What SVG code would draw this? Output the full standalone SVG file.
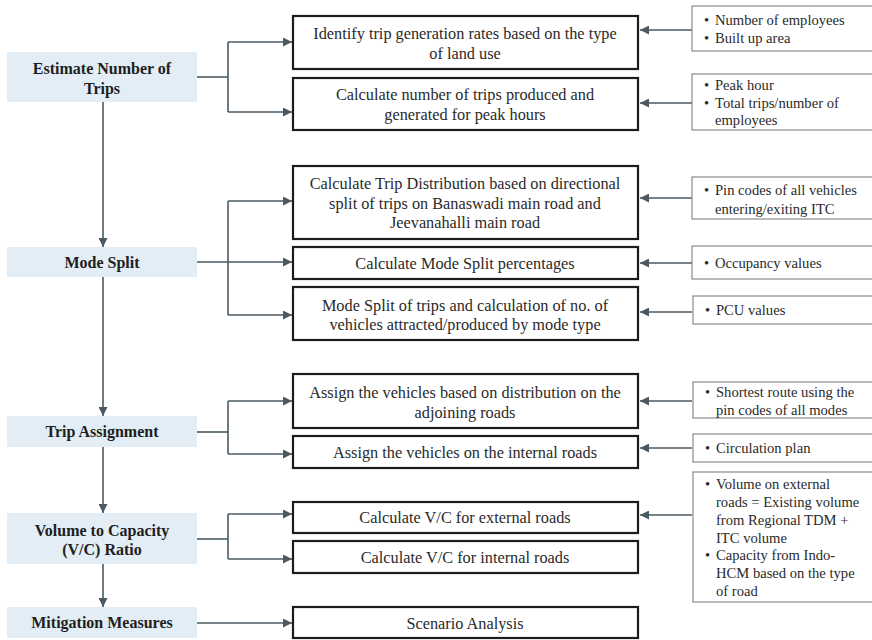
<svg xmlns="http://www.w3.org/2000/svg" width="872" height="640" viewBox="0 0 872 640">
<defs>
<marker id="ah" viewBox="0 0 10 10" refX="10" refY="5" markerWidth="10" markerHeight="9" orient="auto" markerUnits="userSpaceOnUse"><path d="M0,0 L10,5 L0,10 z" fill="#4b5a62"/></marker>
<style>
.stage rect{fill:#e3edf5;stroke:none}
.stage text{font-family:"Liberation Serif",serif;font-weight:bold;font-size:16px;fill:#1e1e1e;text-anchor:middle}
.task rect{fill:#fff;stroke:#1c1c1c;stroke-width:2.2}
.task text{font-family:"Liberation Serif",serif;font-size:16.3px;fill:#2a2a2a;text-anchor:middle}
.note rect{fill:#fff;stroke:#8a8a8a;stroke-width:1.2}
.note text{font-family:"Liberation Serif",serif;font-size:14.6px;fill:#2a2a2a}
.conn path,.conn line{fill:none;stroke:#4b5a62;stroke-width:1.6}
.arr{marker-end:url(#ah)}
</style>
</defs>
<rect width="872" height="640" fill="#fff"/>

<g class="conn">
<!-- vertical flow -->
<line class="arr" x1="103" y1="102" x2="103" y2="247"/>
<line class="arr" x1="103" y1="277" x2="103" y2="416"/>
<line class="arr" x1="103" y1="447" x2="103" y2="513"/>
<line class="arr" x1="103" y1="564" x2="103" y2="607"/>
<!-- estimate -->
<path d="M197,77 H228"/>
<path d="M228,42 V112"/>
<line class="arr" x1="228" y1="42" x2="292" y2="42"/>
<line class="arr" x1="228" y1="112" x2="292" y2="112"/>
<!-- mode split -->
<path d="M228,201 V315"/>
<line class="arr" x1="197" y1="262" x2="292" y2="262"/>
<line class="arr" x1="228" y1="201" x2="292" y2="201"/>
<line class="arr" x1="228" y1="315" x2="292" y2="315"/>
<!-- trip assignment -->
<path d="M197,432 H228"/>
<path d="M228,401 V454"/>
<line class="arr" x1="228" y1="401" x2="292" y2="401"/>
<line class="arr" x1="228" y1="454" x2="292" y2="454"/>
<!-- v/c -->
<path d="M197,539 H228"/>
<path d="M228,514 V559"/>
<line class="arr" x1="228" y1="514" x2="292" y2="514"/>
<line class="arr" x1="228" y1="559" x2="292" y2="559"/>
<!-- mitigation -->
<line class="arr" x1="197" y1="623" x2="292" y2="623"/>
<!-- right notes to tasks -->
<line class="arr" x1="692" y1="30" x2="640" y2="30"/>
<line class="arr" x1="692" y1="103" x2="640" y2="103"/>
<line class="arr" x1="692" y1="198" x2="640" y2="198"/>
<line class="arr" x1="692" y1="263" x2="640" y2="263"/>
<line class="arr" x1="692" y1="312" x2="640" y2="312"/>
<line class="arr" x1="692" y1="401" x2="640" y2="401"/>
<line class="arr" x1="692" y1="448" x2="640" y2="448"/>
<line class="arr" x1="692" y1="515" x2="640" y2="515"/>
</g>

<g id="s1" class="stage"><rect x="7" y="52" width="190" height="50"/><text x="102" y="74">Estimate Number of</text><text x="102" y="94">Trips</text></g>
<g id="s2" class="stage"><rect x="7" y="247" width="190" height="30"/><text x="102" y="268">Mode Split</text></g>
<g id="s3" class="stage"><rect x="7" y="416" width="190" height="31"/><text x="102" y="437">Trip Assignment</text></g>
<g id="s4" class="stage"><rect x="7" y="513" width="190" height="51"/><text x="102" y="536">Volume to Capacity</text><text x="102" y="555">(V/C) Ratio</text></g>
<g id="s5" class="stage"><rect x="7" y="607" width="190" height="31"/><text x="102" y="628">Mitigation Measures</text></g>

<g id="t1" class="task"><rect x="293" y="16" width="345" height="53"/><text x="465" y="38.5">Identify trip generation rates based on the type</text><text x="465" y="58.5">of land use</text></g>
<g id="t2" class="task"><rect x="293" y="78" width="345" height="52"/><text x="465" y="100">Calculate number of trips produced and</text><text x="465" y="120">generated for peak hours</text></g>
<g id="t3" class="task"><rect x="293" y="166" width="345" height="73"/><text x="465" y="189">Calculate Trip Distribution based on directional</text><text x="465" y="208.5">split of trips on Banaswadi main road and</text><text x="465" y="228">Jeevanahalli main road</text></g>
<g id="t4" class="task"><rect x="293" y="247" width="345" height="32"/><text x="465" y="269">Calculate Mode Split percentages</text></g>
<g id="t5" class="task"><rect x="293" y="287" width="345" height="53"/><text x="465" y="311">Mode Split of trips and calculation of no. of</text><text x="465" y="330">vehicles attracted/produced by mode type</text></g>
<g id="t6" class="task"><rect x="293" y="374" width="345" height="54"/><text x="465" y="398">Assign the vehicles based on distribution on the</text><text x="465" y="418">adjoining roads</text></g>
<g id="t7" class="task"><rect x="293" y="436" width="345" height="32"/><text x="465" y="458">Assign the vehicles on the internal roads</text></g>
<g id="t8" class="task"><rect x="293" y="502" width="345" height="31"/><text x="465" y="523">Calculate V/C for external roads</text></g>
<g id="t9" class="task"><rect x="293" y="541" width="345" height="32"/><text x="465" y="563">Calculate V/C for internal roads</text></g>
<g id="t10" class="task"><rect x="293" y="607" width="345" height="31"/><text x="465" y="629">Scenario Analysis</text></g>

<g id="n1" class="note"><rect x="692" y="6" width="185" height="45"/><text x="704" y="25">•</text><text x="715" y="25">Number of employees</text><text x="704" y="43">•</text><text x="715" y="43">Built up area</text></g>
<g id="n2" class="note"><rect x="692" y="74" width="185" height="56"/><text x="704" y="90">•</text><text x="715" y="90">Peak hour</text><text x="704" y="108">•</text><text x="715" y="108">Total trips/number of</text><text x="715" y="125">employees</text></g>
<g id="n3" class="note"><rect x="692" y="177" width="185" height="42"/><text x="704" y="195">•</text><text x="715" y="195">Pin codes of all vehicles</text><text x="715" y="214">entering/exiting ITC</text></g>
<g id="n4" class="note"><rect x="692" y="246" width="185" height="33"/><text x="704" y="268">•</text><text x="715" y="268">Occupancy values</text></g>
<g id="n5" class="note"><rect x="693" y="296" width="185" height="28"/><text x="705" y="315">•</text><text x="716" y="315">PCU values</text></g>
<g id="n6" class="note"><rect x="693" y="382" width="185" height="36"/><text x="705" y="397">•</text><text x="716" y="397">Shortest route using the</text><text x="716" y="415">pin codes of all modes</text></g>
<g id="n7" class="note"><rect x="693" y="434" width="185" height="28"/><text x="705" y="453">•</text><text x="716" y="453">Circulation plan</text></g>
<g id="n8" class="note"><rect x="693" y="472" width="185" height="130"/><text x="705" y="489">•</text><text x="716" y="489">Volume on external</text><text x="716" y="507">roads = Existing volume</text><text x="716" y="525">from Regional TDM +</text><text x="716" y="543">ITC volume</text><text x="705" y="560">•</text><text x="716" y="560">Capacity from Indo-</text><text x="716" y="578">HCM based on the type</text><text x="716" y="596">of road</text></g>
</svg>
